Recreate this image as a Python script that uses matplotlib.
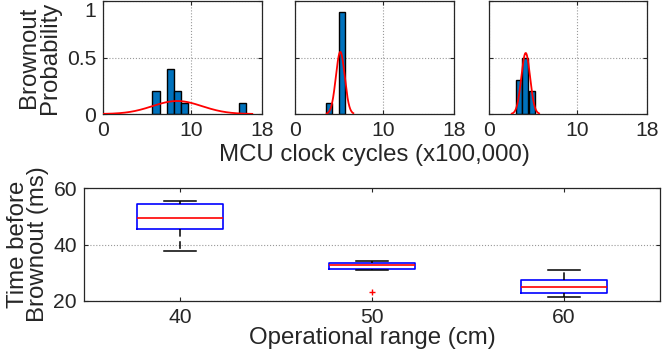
import numpy as np
import matplotlib
matplotlib.use("Agg")
import matplotlib.pyplot as plt
import matplotlib.transforms as mtransforms

plt.rcParams['font.family'] = ['Liberation Sans', 'DejaVu Sans']
TXT = '#262626'
plt.rcParams['text.color'] = TXT
plt.rcParams['axes.labelcolor'] = TXT
plt.rcParams['xtick.color'] = TXT
plt.rcParams['ytick.color'] = TXT

# ---- histogram data (probability per bin) ----
bin_width = [0.8, 0.72, 0.72]
hist_centers = [
    [6.0, 7.6, 8.4, 9.2, 15.8],
    [3.85, 5.3],
    [3.38, 4.12, 4.86],
]
hist_probs = [
    [0.2, 0.4, 0.2, 0.1, 0.1],
    [0.1, 0.9],
    [0.3, 0.5, 0.2],
]
# fitted normal curves: mean, std, peak height, plotted range
fit_mu = [8.4, 5.13, 4.18]
fit_sigma = [2.8, 0.5, 0.5]
fit_peak = [0.115, 0.55, 0.54]
fit_range = [(0.0, 16.9), (3.6, 6.6), (2.6, 5.7)]

# ---- boxplot data ----
ranges = ['40', '50', '60']
box_med = [49.4, 32.7, 25.0]
box_q1 = [45.6, 31.4, 22.7]
box_q3 = [54.2, 33.6, 27.3]
box_whislo = [37.6, 30.9, 21.4]
box_whishi = [55.4, 34.3, 31.0]
box_fliers = [[], [23.1], []]

W, H = 664, 356
fig = plt.figure(figsize=(W / 100, H / 100), dpi=100)

TICK_FS = 15.2
LABEL_FS = 17.3


def px_axes(x0, y0, x1, y1):
    return fig.add_axes([x0 / W, (H - y1) / H, (x1 - x0) / W, (y1 - y0) / H])


def style(ax):
    for s in ax.spines.values():
        s.set_color(TXT)
        s.set_linewidth(0.9)
    ax.tick_params(direction='in', top=True, right=True, length=3,
                   width=0.8, labelsize=TICK_FS, pad=5)


top_boxes = [(103, 1, 262, 114), (295, 1, 454, 114), (489, 1, 647, 114)]
for i, box in enumerate(top_boxes):
    ax = px_axes(*box)
    ax.bar(hist_centers[i], hist_probs[i], width=bin_width[i],
           color='#0072BD', edgecolor='black', linewidth=1.0, zorder=2)
    xs = np.linspace(fit_range[i][0], fit_range[i][1], 300)
    ys = fit_peak[i] * np.exp(-0.5 * ((xs - fit_mu[i]) / fit_sigma[i]) ** 2)
    ax.plot(xs, ys, color='red', linewidth=1.3, zorder=3)
    ax.set_xlim(0, 18)
    ax.set_ylim(0, 1)
    ax.set_xticks([0, 10, 18])
    ax.set_yticks([0, 0.5, 1])
    ax.set_yticklabels(['0', '0.5', '1'] if i == 0 else [])
    ax.grid(True, linestyle=':', color='#999999', linewidth=0.8, zorder=0)
    ax.set_axisbelow(True)
    style(ax)
    if i == 0:
        ax.set_ylabel('Brownout\nProbability', fontsize=LABEL_FS, labelpad=4,
                      linespacing=0.92)
        # keep the top "1" label inside the figure
        fig.canvas.draw()
        lab = ax.get_yticklabels()[-1]
        lab.set_transform(lab.get_transform() + mtransforms.ScaledTranslation(
            0, -6 / 72, fig.dpi_scale_trans))
    if i == 1:
        ax.set_xlabel('MCU clock cycles (x100,000)', fontsize=LABEL_FS,
                      labelpad=3)

ax = px_axes(84, 188, 660, 301)
stats = []
for k in range(len(ranges)):
    stats.append(dict(med=box_med[k], q1=box_q1[k], q3=box_q3[k],
                      whislo=box_whislo[k], whishi=box_whishi[k],
                      fliers=box_fliers[k], label=ranges[k]))
ax.bxp(stats, positions=[1, 2, 3], widths=0.45, capwidths=0.165,
       boxprops=dict(color='blue', linewidth=1.2),
       medianprops=dict(color='red', linewidth=1.2),
       whiskerprops=dict(color='black', linestyle=(0, (5, 3)), linewidth=1.1),
       capprops=dict(color='black', linewidth=1.1),
       flierprops=dict(marker='+', markeredgecolor='red', markersize=4,
                       linestyle='none'))
ax.set_xlim(0.5, 3.5)
ax.set_ylim(20, 60)
ax.set_yticks([20, 40, 60])
ax.yaxis.grid(True, linestyle=':', color='#999999', linewidth=0.8)
ax.set_axisbelow(True)
style(ax)
ax.set_ylabel('Time before\nBrownout (ms)', fontsize=LABEL_FS, labelpad=3,
              linespacing=0.92)
ax.set_xlabel('Operational range (cm)', fontsize=LABEL_FS, labelpad=0)

fig.savefig('out.png', dpi=100)
